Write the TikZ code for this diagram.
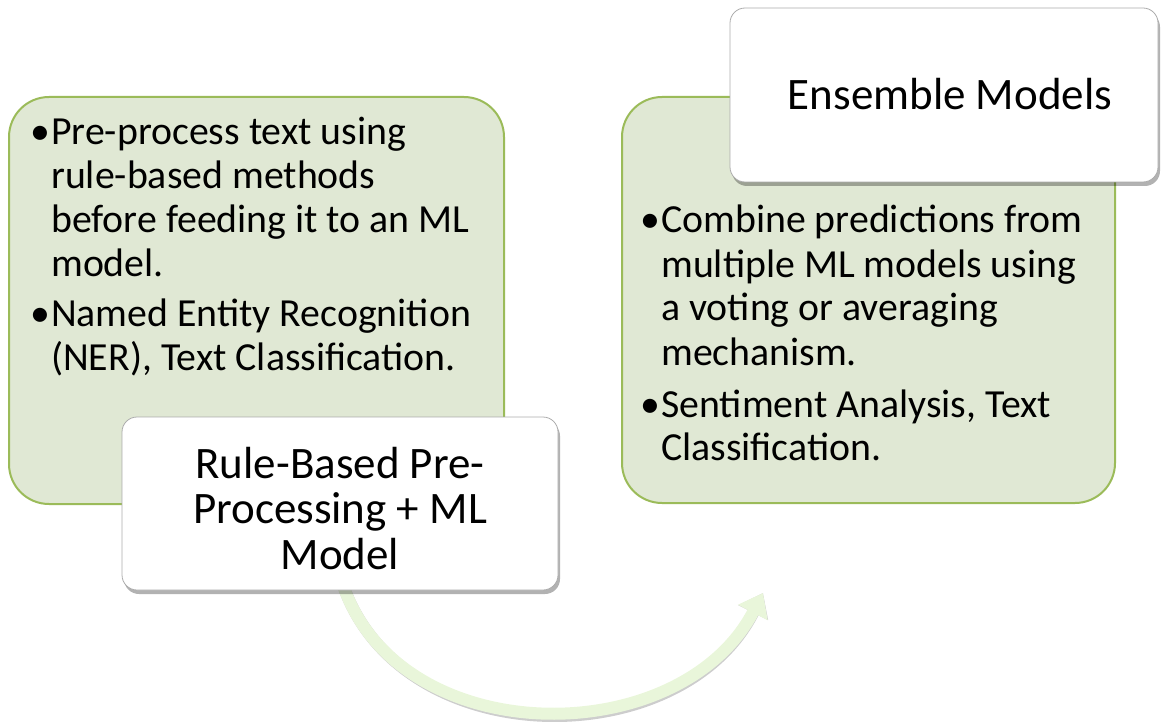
\documentclass[tikz,border=0pt]{standalone}
\usepackage{fontspec}
\setmainfont{Carlito}
\usetikzlibrary{arrows.meta,shadows}
\definecolor{boxfill}{RGB}{224,232,212}
\definecolor{boxline}{RGB}{155,187,89}
\definecolor{arrowfill}{RGB}{233,246,218}
\definecolor{arrowshade}{RGB}{205,205,205}
\tikzset{
  greenbox/.style={draw=boxline, fill=boxfill, line width=2pt, rounded corners=40pt, inner sep=0pt},
  whitebox/.style={draw=gray!65, fill=white, line width=0.8pt, rounded corners=15pt, inner sep=0pt,
    drop shadow={shadow xshift=2pt, shadow yshift=-4pt, opacity=0.3, fill=black}},
  bodytext/.style={anchor=base west, inner sep=0pt, font=\fontsize{39.8}{44}\selectfont},
  titletext/.style={anchor=base, inner sep=0pt, font=\fontsize{45}{45.5}\selectfont},
  flowarrow/.style={line width=12pt, draw=arrowfill, -{Triangle[length=22pt,width=32pt]}},
}
\newcommand{\bitem}[1]{\par\hangindent=21pt\hangafter=1\noindent\makebox[21pt][l]{\textbullet}#1}
\begin{document}
\begin{tikzpicture}[x=1pt,y=-1pt]
\useasboundingbox (0,0) rectangle (1164,722);
% green content boxes
\node[greenbox, minimum width=495pt, minimum height=407pt] (leftbox) at (256.5,300.5) {};
\node[greenbox, minimum width=493pt, minimum height=406pt] (rightbox) at (868.5,300) {};
% body texts
\node[bodytext] (lefttext) at (30,145) {\parbox[t]{480pt}{\raggedright\parskip=6pt
  \bitem{Pre-process text using\newline rule-based methods\newline before feeding it to an ML\newline model.}
  \bitem{Named Entity Recognition\newline (NER), Text Classification.}}};
\node[bodytext] (righttext) at (640,233) {\parbox[t]{480pt}{\raggedright\parskip=8pt
  \bitem{Combine predictions from\newline multiple ML models using\newline a voting or averaging\newline mechanism.}
  \bitem{Sentiment Analysis, Text\newline Classification.}}};
% curved arrow
\coordinate (astart) at (343,585);
\coordinate (aend) at (763,593);
\draw[flowarrow, draw=arrowshade, shift={(2pt,-3pt)}] (astart) .. controls (400,752) and (680,752) .. (aend);
\draw[flowarrow] (astart) .. controls (400,752) and (680,752) .. (aend);
% white title boxes
\node[whitebox, minimum width=436pt, minimum height=173pt] (rulebox) at (340,503.5) {};
\node[whitebox, minimum width=428pt, minimum height=174pt] (ensbox) at (944,95) {};
\node[titletext] (ruletitle) at (340,478) {\parbox[t]{430pt}{\centering Rule-Based Pre-\\Processing + ML\\Model}};
\node[titletext] (enstitle) at (950,110) {Ensemble Models};
\end{tikzpicture}
\end{document}
